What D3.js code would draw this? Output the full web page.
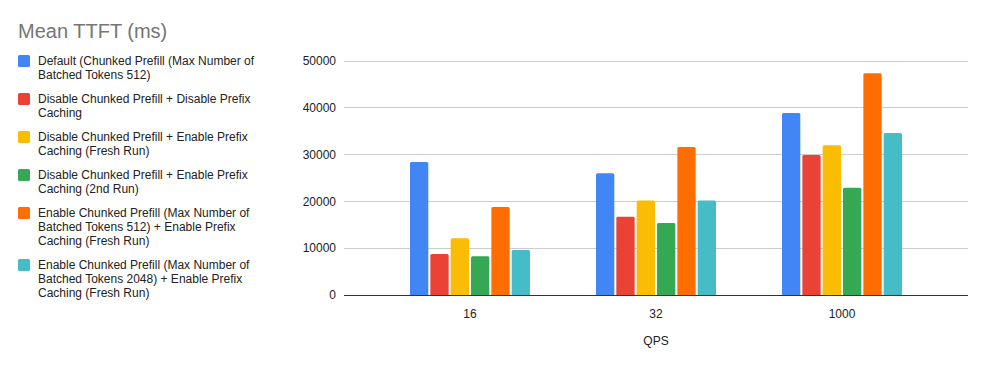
<!DOCTYPE html>
<html><head><meta charset="utf-8">
<script src="https://cdn.jsdelivr.net/npm/d3@7"></script>
<style>body{margin:0;background:#fff}svg{font-family:"Liberation Sans",Arial,sans-serif}</style>
</head><body><svg id="c" width="986" height="365"></svg>
<script>
const title = "Mean TTFT (ms)";
const categories = ["16", "32", "1000"];
const seriesNames = [
  ["Default (Chunked Prefill (Max Number of", "Batched Tokens 512)"],
  ["Disable Chunked Prefill + Disable Prefix", "Caching"],
  ["Disable Chunked Prefill + Enable Prefix", "Caching (Fresh Run)"],
  ["Disable Chunked Prefill + Enable Prefix", "Caching (2nd Run)"],
  ["Enable Chunked Prefill (Max Number of", "Batched Tokens 512) + Enable Prefix", "Caching (Fresh Run)"],
  ["Enable Chunked Prefill (Max Number of", "Batched Tokens 2048) + Enable Prefix", "Caching (Fresh Run)"]
];
const colors = ["#4285F4", "#EA4335", "#FBBC04", "#34A853", "#FF6D01", "#46BDC6"];
const defaultVals   = [28400, 26000, 38900];
const disDisVals    = [8750, 16700, 29900];
const disEnFresh    = [12100, 20200, 32000];
const disEn2nd      = [8270, 15400, 22900];
const en512Fresh    = [18800, 31600, 47400];
const en2048Fresh   = [9600, 20200, 34600];
const series = [defaultVals, disDisVals, disEnFresh, disEn2nd, en512Fresh, en2048Fresh];
const yTicks = [0, 10000, 20000, 30000, 40000, 50000];
const xTitle = "QPS";

const svg = d3.select("#c");
const plotL = 344, plotR = 968, y0 = 295, yTop = 61;

svg.append("text").attr("x", 18).attr("y", 38).attr("font-size", 20)
  .attr("fill", "#757575").text(title);

const y = d3.scaleLinear().domain([0, 50000]).range([y0, yTop]);
const x = d3.scaleBand().domain(categories).range([377, 935]);
const inner = d3.scaleBand().domain(d3.range(series.length)).range([0, 120]).paddingInner(0.1).paddingOuter(0);

// gridlines
svg.append("g").selectAll("line").data(yTicks.slice(1)).join("line")
  .attr("x1", plotL).attr("x2", plotR).attr("y1", d => y(d)).attr("y2", d => y(d))
  .attr("stroke", "#cccccc").attr("stroke-width", 1).attr("shape-rendering", "crispEdges");

// y labels
svg.append("g").selectAll("text").data(yTicks).join("text")
  .attr("x", 336).attr("y", d => y(d)).attr("dy", "0.35em").attr("text-anchor", "end")
  .attr("font-size", 12).attr("fill", "#222").text(d => d);

// bars
series.forEach((vals, si) => {
  svg.append("g").selectAll("path").data(vals).join("path")
    .attr("fill", colors[si])
    .attr("d", (v, i) => {
      const bx = x(categories[i]) + x.bandwidth() / 2 - 60 + inner(si);
      const bw = inner.bandwidth();
      const top = y(v), r = 1.5;
      return `M${bx},${y0}V${top + r}Q${bx},${top} ${bx + r},${top}H${bx + bw - r}Q${bx + bw},${top} ${bx + bw},${top + r}V${y0}Z`;
    });
});

// baseline
svg.append("line").attr("x1", plotL).attr("x2", plotR).attr("y1", y0).attr("y2", y0)
  .attr("stroke", "#333").attr("stroke-width", 1).attr("shape-rendering", "crispEdges");

// x labels
svg.append("g").selectAll("text").data(categories).join("text")
  .attr("x", d => x(d) + x.bandwidth() / 2).attr("y", 318).attr("text-anchor", "middle")
  .attr("font-size", 12).attr("fill", "#222").text(d => d);

svg.append("text").attr("x", (x.range()[0] + x.range()[1]) / 2).attr("y", 345)
  .attr("text-anchor", "middle").attr("font-size", 12).attr("fill", "#222").text(xTitle);

// legend
let ly = 61;
seriesNames.forEach((lines, si) => {
  const g = svg.append("g");
  g.append("rect").attr("x", 18).attr("y", ly - 6).attr("width", 12).attr("height", 12)
    .attr("rx", 1.5).attr("fill", colors[si]);
  g.selectAll("text").data(lines).join("text")
    .attr("x", 38).attr("y", (d, i) => ly + i * 14).attr("dy", "0.35em")
    .attr("font-size", 12).attr("fill", "#222").text(d => d);
  ly += lines.length * 14 + 10;
});
</script></body></html>
